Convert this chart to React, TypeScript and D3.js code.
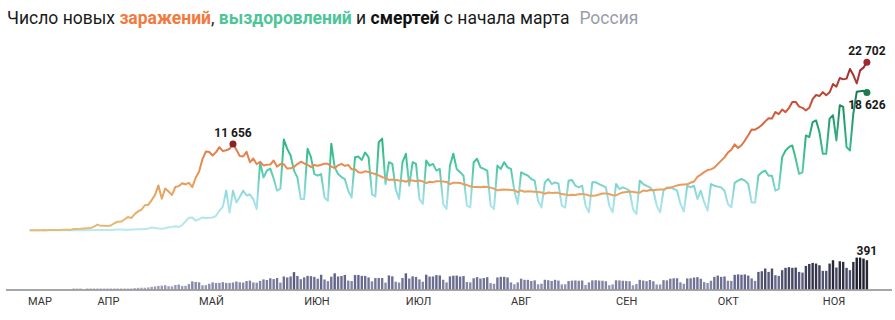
import React from "react";
import * as d3 from "d3";

// ---------- DATA (daily values) ----------
// new infections, from 12 March 2020
const casesMar = [6, 11, 14, 4, 30, 21, 33, 52, 54, 53, 61, 71, 57, 163, 182, 196, 228, 270, 302, 501];
const casesApr = [771, 601, 601, 582, 658, 954, 1154, 1175, 1459, 1786, 1667, 2186, 2558, 2774, 3388, 3448, 4070, 4785, 6060, 4268, 5642, 5236, 4774, 5849, 5966, 6361, 6198, 6411, 5841, 7099];
const casesMay = [7933, 9623, 10633, 10581, 10102, 10559, 11231, 10699, 10817, 11012, 11656, 10899, 10028, 9974, 10598, 9200, 9709, 8926, 9263, 8764, 8849, 8894, 9434, 8599, 8946, 8915, 8338, 8371, 8572, 8952, 9268];
const casesJun = [9035, 8863, 8536, 8831, 8726, 8855, 8984, 8985, 8595, 8404, 8779, 8987, 8706, 8835, 8246, 8248, 7843, 7790, 7972, 7889, 7728, 7600, 7425, 7176, 7113, 6800, 6852, 6791, 6719, 6693];
const casesJul = [6556, 6760, 6718, 6632, 6736, 6611, 6368, 6562, 6509, 6635, 6615, 6611, 6537, 6248, 6422, 6428, 6406, 6214, 6109, 5940, 5842, 5862, 5811, 5871, 5848, 5765, 5635, 5395, 5475, 5509, 5482];
const casesAug = [5462, 5427, 5159, 5394, 5204, 5267, 5241, 5212, 5189, 5118, 4945, 5102, 5057, 5065, 5061, 4892, 4839, 4748, 4790, 4767, 4870, 4921, 4852, 4696, 4676, 4711, 4829, 4979, 4980, 4897, 4729];
const casesSep = [4729, 4952, 5110, 5185, 5205, 5195, 5099, 5099, 5363, 5310, 5449, 5406, 5488, 5509, 5529, 5670, 5762, 5905, 6065, 6148, 6196, 6215, 6431, 6595, 7212, 7523, 7867, 8135, 8232, 8481];
const casesOct = [8945, 9412, 9859, 10499, 10888, 11615, 11115, 11493, 12126, 12846, 13634, 13592, 13868, 14231, 14717, 15150, 15099, 15982, 15700, 16319, 15971, 16521, 17340, 17347, 16710, 16550, 16202, 16550, 17717, 18283, 18140];
const casesNov = [18665, 18257, 18648, 19768, 19404, 20582, 20396, 20498, 21798, 20977, 19851, 21608, 21983, 22702];

// recoveries, from 12 March 2020
const recMar = [2, 1, 1, 0, 3, 4, 1, 3, 4, 2, 3, 8, 6, 7, 16, 23, 28, 20, 18, 45];
const recApr = [57, 41, 45, 74, 37, 74, 100, 113, 70, 61, 100, 120, 130, 150, 180, 220, 370, 300, 240, 200, 280, 400, 460, 560, 450, 700, 1200, 1700, 1730, 1300];
const recMay = [1500, 1730, 1650, 1700, 1730, 1960, 2640, 3200, 5350, 2400, 5350, 3760, 4500, 5350, 4700, 4840, 4200, 2860, 9200, 7140, 8060, 8340, 7000, 5350, 5620, 12260, 11000, 10110, 8060, 7140, 4230];
const recJun = [4230, 11020, 9880, 7600, 7380, 7600, 4430, 3990, 11700, 8500, 7600, 7200, 6930, 5350, 4430, 9880, 9960, 9510, 10520, 9850, 4890, 4560, 11920, 12380, 6260, 9200, 8970, 5580, 4230, 9200];
const recJul = [10340, 6030, 9200, 8970, 4230, 3560, 9430, 8740, 8970, 8060, 8290, 3560, 2880, 8740, 10340, 8290, 7840, 7380, 3340, 3110, 9200, 9660, 8510, 8290, 8060, 3340, 2880, 8740, 8290, 9200, 8500];
const recAug = [8290, 5350, 3540, 7840, 7600, 7380, 6930, 6700, 3990, 3080, 6480, 6930, 6250, 6480, 6300, 3340, 3080, 6700, 6800, 6030, 5800, 6030, 3340, 2430, 6480, 6480, 6250, 6030, 5800, 3340, 2430];
const recSep = [6250, 5580, 5800, 5600, 5350, 2860, 2180, 6710, 6250, 6000, 5800, 5350, 3340, 2430, 5350, 5800, 5800, 5600, 5350, 3560, 2540, 6030, 5800, 6030, 4220, 5350, 3800, 2650, 6250, 6030];
const recOct = [5900, 5800, 5350, 3560, 3110, 6400, 6710, 6930, 6710, 6250, 3740, 3740, 7400, 7840, 8060, 7380, 7380, 5350, 5580, 9880, 10790, 11240, 11470, 9660, 7620, 7840, 12820, 12590, 14630, 14860, 13270];
const recNov = [10340, 10340, 15090, 15540, 12140, 16900, 16670, 11240, 10790, 15770, 18710, 18800, 18850, 18626];

// deaths, from 25 March 2020
const deathsMar = [2, 1, 1, 0, 5, 8, 1];
const deathsApr = [7, 2, 4, 9, 2, 2, 11, 13, 12, 13, 12, 18, 22, 24, 24, 28, 36, 41, 48, 51, 57, 44, 42, 60, 66, 47, 50, 72, 108, 101];
const deathsMay = [96, 57, 58, 76, 95, 86, 88, 98, 88, 88, 94, 107, 96, 93, 113, 119, 94, 91, 115, 135, 127, 150, 139, 153, 92, 174, 161, 174, 232, 181, 138];
const deathsJun = [162, 182, 178, 169, 144, 197, 134, 112, 171, 216, 174, 181, 194, 119, 113, 193, 194, 182, 181, 161, 109, 153, 154, 154, 92, 188, 176, 104, 93, 154];
const deathsJul = [216, 147, 176, 168, 135, 104, 198, 173, 174, 192, 188, 130, 95, 175, 184, 186, 173, 179, 100, 95, 150, 165, 146, 154, 165, 85, 77, 161, 169, 169, 161];
const deathsAug = [95, 70, 95, 144, 129, 129, 114, 122, 70, 77, 130, 124, 114, 129, 119, 68, 70, 114, 119, 121, 117, 120, 60, 95, 122, 123, 119, 117, 110, 57, 68];
const deathsSep = [123, 121, 117, 114, 110, 57, 73, 129, 119, 112, 127, 110, 67, 67, 125, 122, 144, 150, 150, 96, 76, 148, 150, 160, 165, 144, 99, 86, 117, 169];
const deathsOct = [186, 169, 174, 117, 115, 196, 202, 197, 201, 186, 148, 115, 235, 244, 280, 235, 280, 191, 182, 258, 289, 298, 289, 293, 235, 226, 315, 341, 355, 346, 324];
const deathsNov = [249, 249, 346, 391, 293, 377, 369, 289, 258, 368, 426, 426, 413, 391];

const monthLabels = ["МАР", "АПР", "МАЙ", "ИЮН", "ИЮЛ", "АВГ", "СЕН", "ОКТ", "НОЯ"];

const LINE_START = new Date(Date.UTC(2020, 2, 12));
const DEATH_START = new Date(Date.UTC(2020, 2, 25));

const cases = [...casesMar, ...casesApr, ...casesMay, ...casesJun, ...casesJul, ...casesAug, ...casesSep, ...casesOct, ...casesNov];
const recovered = [...recMar, ...recApr, ...recMay, ...recJun, ...recJul, ...recAug, ...recSep, ...recOct, ...recNov];
const deaths = [...deathsMar, ...deathsApr, ...deathsMay, ...deathsJun, ...deathsJul, ...deathsAug, ...deathsSep, ...deathsOct, ...deathsNov];

type Pt = { date: Date; v: number };
const toSeries = (arr: number[], start: Date): Pt[] => arr.map((v, i) => ({ date: d3.utcDay.offset(start, i), v }));

const casesS = toSeries(cases, LINE_START);
const recS = toSeries(recovered, LINE_START);
const deathsS = toSeries(deaths, DEATH_START);

const fmt = d3.formatLocale({ thousands: "\u00a0", grouping: [3], decimal: ",", currency: ["", ""] }).format(",");

const W = 895;
const H = 320;
const FONT = "Roboto, 'Noto Sans', sans-serif";

export default function App() {
  const x = d3
    .scaleUtc()
    .domain([new Date(Date.UTC(2020, 2, 1)), new Date(Date.UTC(2020, 10, 14))])
    .range([-7.7, 866.9]);
  const y = d3.scaleLinear().domain([0, 22702]).range([230.3, 62.3]);
  const yb = d3.scaleLinear().domain([0, 391]).range([289.5, 260.2]);
  const barColor = d3
    .scaleLinear<string>()
    .domain([0, 200, 430])
    .range(["#a9abc5", "#63658a", "#1c1c29"])
    .clamp(true);

  const line = d3
    .line<Pt>()
    .x((d) => x(d.date))
    .y((d) => y(d.v))
    .curve(d3.curveLinear);

  const months = d3.utcMonth.range(new Date(Date.UTC(2020, 2, 1)), new Date(Date.UTC(2020, 11, 1)));

  const peakIdx = d3.maxIndex(casesS.slice(0, 120), (d) => d.v);
  const peak = casesS[peakIdx];
  const lastC = casesS[casesS.length - 1];
  const lastR = recS[recS.length - 1];
  const lastD = deathsS[deathsS.length - 1];

  const barW = 2.4;

  return (
    <svg
      width={W}
      height={H}
      style={{ position: "absolute", left: 0, top: 0, background: "#fff" }}
      fontFamily={FONT}
    >
      <defs>
        <linearGradient id="gCases" gradientUnits="userSpaceOnUse" x1={0} y1={y(0)} x2={0} y2={y(22702)}>
          <stop offset="0" stopColor="#e4bc78" />
          <stop offset="0.18" stopColor="#e8a862" />
          <stop offset="0.33" stopColor="#e8955a" />
          <stop offset="0.5" stopColor="#e07a48" />
          <stop offset="0.68" stopColor="#d45e3c" />
          <stop offset="0.84" stopColor="#b83f34" />
          <stop offset="1" stopColor="#9c282c" />
        </linearGradient>
        <linearGradient id="gRec" gradientUnits="userSpaceOnUse" x1={0} y1={y(0)} x2={0} y2={y(22702)}>
          <stop offset="0" stopColor="#b8e9ef" />
          <stop offset="0.15" stopColor="#a8e2ea" />
          <stop offset="0.24" stopColor="#88d8d8" />
          <stop offset="0.33" stopColor="#5fcdb3" />
          <stop offset="0.42" stopColor="#40c495" />
          <stop offset="0.6" stopColor="#2ba878" />
          <stop offset="0.82" stopColor="#187c52" />
          <stop offset="1" stopColor="#12683f" />
        </linearGradient>
      </defs>

      {/* title */}
      <text x={7} y={24} fontSize={17.5} fill="#1a1a1a">
        <tspan>Число новых </tspan>
        <tspan fill="#f27a3e" fontWeight="bold">заражений</tspan>
        <tspan>, </tspan>
        <tspan fill="#4cc597" fontWeight="bold">выздоровлений</tspan>
        <tspan> и </tspan>
        <tspan fontWeight="bold" fill="#111">смертей</tspan>
        <tspan> с начала марта</tspan>
        <tspan dx={10} fill="#9b9ba8">Россия</tspan>
      </text>

      {/* lines */}
      <path d={line(recS) || ""} fill="none" stroke="url(#gRec)" strokeWidth={2} strokeLinejoin="round" />
      <path d={line(casesS) || ""} fill="none" stroke="url(#gCases)" strokeWidth={2} strokeLinejoin="round" />

      {/* dots and value labels */}
      <circle cx={x(peak.date)} cy={y(peak.v)} r={3.5} fill="#8c2226" />
      <text x={x(peak.date)} y={y(peak.v) - 7} textAnchor="middle" fontSize={12} fontWeight="bold" fill="#1a1a1a">
        {fmt(peak.v)}
      </text>
      <circle cx={x(lastC.date)} cy={y(lastC.v)} r={3.5} fill="#a0282e" />
      <text x={x(lastC.date)} y={y(lastC.v) - 7} textAnchor="middle" fontSize={12} fontWeight="bold" fill="#1a1a1a">
        {fmt(lastC.v)}
      </text>
      <circle cx={x(lastR.date)} cy={y(lastR.v)} r={3.5} fill="#1b7a50" />
      <text x={x(lastR.date)} y={y(lastR.v) + 17} textAnchor="middle" fontSize={12} fontWeight="bold" fill="#1a1a1a">
        {fmt(lastR.v)}
      </text>

      {/* death bars */}
      {deathsS.map((d, i) =>
        d.v > 0 ? (
          <rect
            key={i}
            x={x(d.date) - barW / 2}
            y={Math.min(yb(d.v), yb(0) - 1)}
            width={barW}
            height={Math.max(yb(0) - yb(d.v), 1)}
            fill={barColor(d.v)}
          />
        ) : null
      )}
      <line x1={6} x2={892} y1={290} y2={290} stroke="#8a8a8a" strokeWidth={1.4} />
      <text x={x(lastD.date)} y={yb(lastD.v) - 5} textAnchor="middle" fontSize={12} fontWeight="bold" fill="#1a1a1a">
        {fmt(lastD.v)}
      </text>

      {/* month labels */}
      {months.map((m, i) => (
        <text key={i} x={Math.max(28, x(m))} y={305} fontSize={11} fill="#333">
          {monthLabels[i]}
        </text>
      ))}
    </svg>
  );
}
